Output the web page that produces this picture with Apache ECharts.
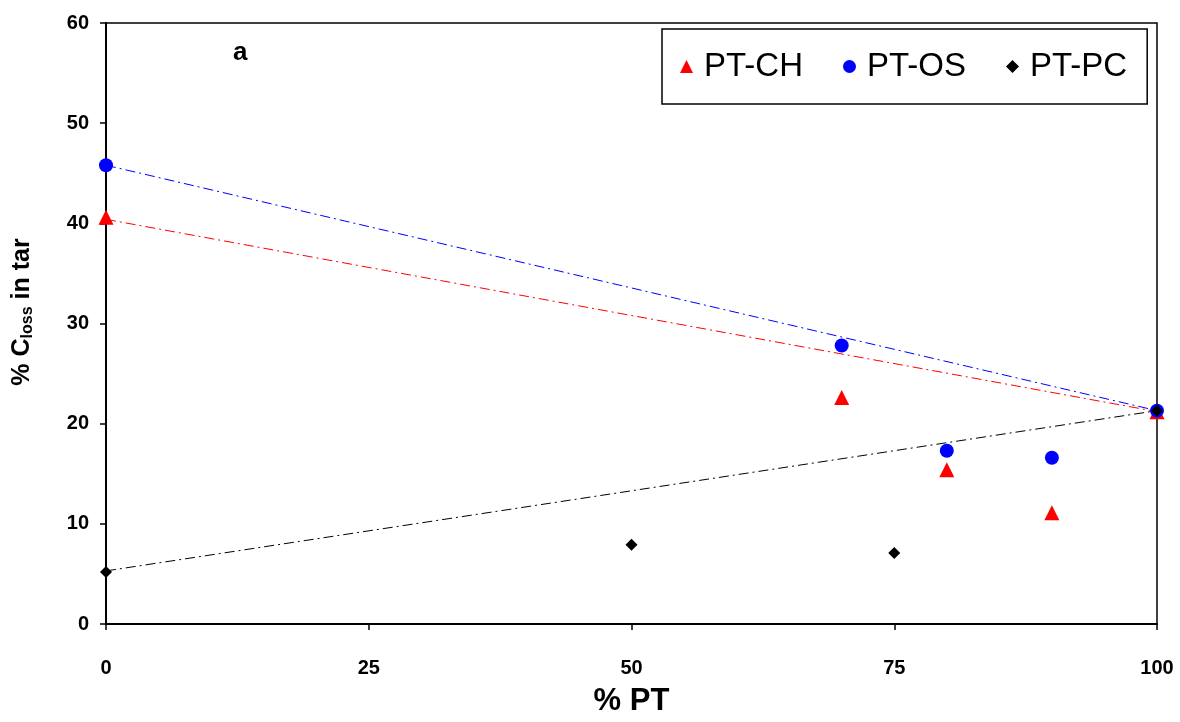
<!DOCTYPE html>
<html>
<head>
<meta charset="utf-8">
<script src="https://cdn.jsdelivr.net/npm/echarts@6/dist/echarts.min.js"></script>
<style>html,body{margin:0;padding:0;background:#fff;}#c{width:1180px;height:722px;}</style>
</head>
<body>
<div id="c"></div>
<script>
const xTicks = [0, 25, 50, 75, 100];
const chX = [0, 70, 80, 90, 100];
const chY = [40.6, 22.6, 15.4, 11.1, 21.2];
const osX = [0, 70, 80, 90, 100];
const osY = [45.8, 27.8, 17.3, 16.6, 21.3];
const pcX = [0, 50, 75, 100];
const pcY = [5.2, 7.9, 7.1, 21.3];
const chLine = [[0, 40.4], [100, 21.2]];
const osLine = [[0, 45.8], [100, 21.3]];
const pcLine = [[0, 5.3], [100, 21.3]];

const FONT = '"Liberation Sans", Arial, sans-serif';
const zip = (xs, ys) => xs.map((x, i) => [x, ys[i]]);
const dashDot = [10, 4, 2, 4];

const chart = echarts.init(document.getElementById('c'), null, {renderer: 'canvas'});
chart.setOption({
  animation: false,
  backgroundColor: '#fff',
  textStyle: {fontFamily: FONT},
  grid: {left: 106, right: 23, top: 23, bottom: 94, show: true, borderColor: '#000', borderWidth: 1.5, backgroundColor: 'transparent'},
  legend: {
    left: 662, top: 29,
    padding: [21, 20, 21, 18],
    borderColor: '#000', borderWidth: 1.5, backgroundColor: '#fff',
    itemWidth: 13, itemHeight: 13, itemGap: 40,
    textStyle: {fontSize: 33, color: '#000', fontFamily: FONT, padding: [0, 0, 0, 6]},
    data: [
      {name: 'PT-CH', icon: 'triangle', itemStyle: {color: '#ff0000', opacity: 1}},
      {name: 'PT-OS', icon: 'circle', itemStyle: {color: '#0000ff', opacity: 1}},
      {name: 'PT-PC', icon: 'diamond', itemStyle: {color: '#000000', opacity: 1}}
    ]
  },
  xAxis: {
    type: 'value', min: 0, max: 100, interval: 25,
    name: '% PT', nameLocation: 'middle', nameGap: 62,
    nameTextStyle: {fontSize: 31, fontWeight: 'bold', color: '#000', fontFamily: FONT},
    axisLine: {show: true, onZero: false, lineStyle: {color: '#000', width: 2}},
    axisTick: {show: true, inside: false, length: 6, lineStyle: {color: '#000', width: 1.5}},
    axisLabel: {fontSize: 20, fontWeight: 'bold', color: '#000', margin: 34, fontFamily: FONT,
      formatter: v => xTicks.includes(v) ? String(v) : ''},
    splitLine: {show: false}
  },
  yAxis: {
    type: 'value', min: 0, max: 60, interval: 10,
    axisLine: {show: true, onZero: false, lineStyle: {color: '#000', width: 2}},
    axisTick: {show: true, inside: false, length: 6, lineStyle: {color: '#000', width: 1.5}},
    axisLabel: {fontSize: 20, fontWeight: 'bold', color: '#000', margin: 17, fontFamily: FONT},
    splitLine: {show: false}
  },
  graphic: [
    {
      type: 'text', left: 233, top: 40,
      style: {text: 'a', font: 'bold 26px "Liberation Sans", Arial, sans-serif', fill: '#000'}
    },
    {
      type: 'text', x: 22, y: 312, rotation: Math.PI / 2,
      style: {
        text: '% C{sub|loss} in tar', align: 'center', verticalAlign: 'middle',
        fontSize: 25, fontWeight: 'bold', fontFamily: FONT, fill: '#000', lineHeight: 28,
        rich: {sub: {fontSize: 16, fontWeight: 'bold', fontFamily: FONT, fill: '#000', verticalAlign: 'bottom', lineHeight: 20, padding: [8, 0, 0, 0]}}
      }
    }
  ],
  series: [
    {type: 'line', data: chLine, symbol: 'none', silent: true, lineStyle: {color: '#ff0000', width: 1, type: dashDot}, z: 1},
    {type: 'line', data: osLine, symbol: 'none', silent: true, lineStyle: {color: '#0000ff', width: 1, type: dashDot}, z: 1},
    {type: 'line', data: pcLine, symbol: 'none', silent: true, lineStyle: {color: '#000000', width: 1, type: dashDot}, z: 1},
    {name: 'PT-CH', type: 'scatter', data: zip(chX, chY), symbol: 'triangle', symbolSize: 15, itemStyle: {color: '#ff0000', opacity: 1}, z: 3},
    {name: 'PT-OS', type: 'scatter', data: zip(osX, osY), symbol: 'circle', symbolSize: 14, itemStyle: {color: '#0000ff', opacity: 1}, z: 4},
    {name: 'PT-PC', type: 'scatter', data: zip(pcX, pcY), symbol: 'diamond', symbolSize: 12, itemStyle: {color: '#000000', opacity: 1}, z: 5}
  ]
});
</script>
</body>
</html>
